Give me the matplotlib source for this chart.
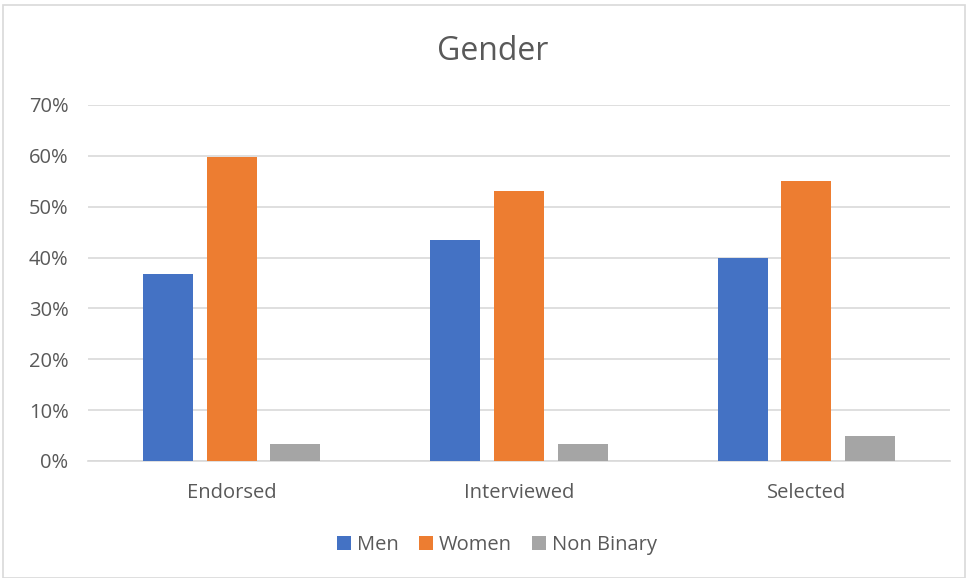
import matplotlib
matplotlib.use('Agg')
import matplotlib.pyplot as plt
import matplotlib.patches as patches
import numpy as np
from matplotlib.ticker import PercentFormatter

# Data
categories = ['Endorsed', 'Interviewed', 'Selected']
men = [36.7, 43.5, 40.0]
women = [59.8, 53.0, 55.0]
non_binary = [3.3, 3.3, 4.9]
series_names = ['Men', 'Women', 'Non Binary']
colors = ['#4472C4', '#ED7D31', '#A5A5A5']
yticks = [0, 10, 20, 30, 40, 50, 60, 70]

plt.rcParams['font.family'] = ['Open Sans', 'DejaVu Sans']
text_col = '#595959'

fig = plt.figure(figsize=(9.68, 5.78), dpi=100)
ax = fig.add_axes([88/968, 1-461/578, (950-88)/968, (461-105)/578])

x = np.arange(len(categories))
w = 0.174
step = 0.222
for i, (vals, name, c) in enumerate(zip([men, women, non_binary], series_names, colors)):
    ax.bar(x + (i-1)*step, vals, width=w, color=c, label=name, zorder=3)

ax.set_xlim(-0.5, 2.5)
ax.set_ylim(0, 70)
ax.set_yticks(yticks)
ax.yaxis.set_major_formatter(PercentFormatter(decimals=0))
ax.set_xticks(x)
ax.set_xticklabels(categories)
ax.tick_params(axis='both', length=0, labelsize=14.5, colors=text_col)
ax.tick_params(axis='x', pad=16)
ax.tick_params(axis='y', pad=14)
ax.grid(axis='y', color='#D9D9D9', linewidth=1.2, zorder=0)
for s in ['top', 'right', 'left']:
    ax.spines[s].set_visible(False)
ax.spines['bottom'].set_color('#D9D9D9')
ax.spines['bottom'].set_linewidth(1.2)

fig.text(493/968, 1-52/578, 'Gender', ha='center', va='center', fontsize=23, color=text_col)

leg = fig.legend(loc='center', bbox_to_anchor=(497/968, 1-545/578), ncol=3, frameon=False,
                 fontsize=14.5, handlelength=0.7, handleheight=0.7, handletextpad=0.3,
                 columnspacing=1.0)
for t in leg.get_texts():
    t.set_color(text_col)

# chart border
fig.add_artist(patches.Rectangle((3/968, 0), 962/968, 1-5/578, transform=fig.transFigure,
                                 fill=False, edgecolor='#D9D9D9', linewidth=1.2))

fig.savefig('out.png', dpi=100)
